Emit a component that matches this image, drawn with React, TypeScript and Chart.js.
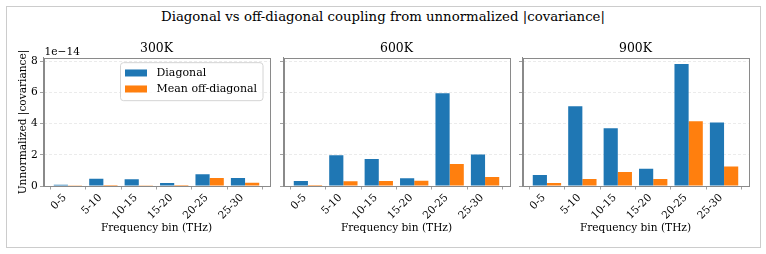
import React, { useEffect, useRef } from 'react';
import { Chart, registerables } from 'chart.js';

Chart.register(...registerables);

// ---- data (values are |covariance|; axis shows them with a 1e-14 offset) ----
const CATEGORIES = ['0-5', '5-10', '10-15', '15-20', '20-25', '25-30'];
const TEMPERATURES = ['300K', '600K', '900K'];
const SERIES_LABELS = ['Diagonal', 'Mean off-diagonal'];
const SERIES_COLORS = ['#1f77b4', '#ff7f0e'];

const DIAG_300K = [0.08e-14, 0.47e-14, 0.43e-14, 0.19e-14, 0.75e-14, 0.51e-14];
const OFF_300K = [0.01e-14, 0.06e-14, 0.05e-14, 0.06e-14, 0.51e-14, 0.21e-14];
const DIAG_600K = [0.32e-14, 1.98e-14, 1.73e-14, 0.49e-14, 5.95e-14, 2.03e-14];
const OFF_600K = [0.06e-14, 0.30e-14, 0.32e-14, 0.34e-14, 1.41e-14, 0.58e-14];
const DIAG_900K = [0.70e-14, 5.12e-14, 3.71e-14, 1.11e-14, 7.83e-14, 4.07e-14];
const OFF_900K = [0.19e-14, 0.45e-14, 0.90e-14, 0.45e-14, 4.16e-14, 1.26e-14];

const Y_TICKS = [0, 2e-14, 4e-14, 6e-14, 8e-14];
const OFFSET_TEXT = '1e\u221214';
const OFFSET_SCALE = 1e-14;

const SUPTITLE = 'Diagonal vs off-diagonal coupling from unnormalized |covariance|';
const X_TITLE = 'Frequency bin (THz)';
const Y_TITLE = 'Unnormalized |covariance|';

const FONT = "'DejaVu Serif', serif";
const SPINE = '#8a8a8a';
const SMALL = 10.6;
const LEGEND_SIZE = 11;

const ALL = [...DIAG_300K, ...OFF_300K, ...DIAG_600K, ...OFF_600K, ...DIAG_900K, ...OFF_900K];
const Y_MAX = Math.max(...ALL) * 1.05;
const X_MIN = -0.4 - 0.05 * (CATEGORIES.length - 0.2);
const X_MAX = CATEGORIES.length - 1 + 0.4 + 0.05 * (CATEGORIES.length - 0.2);

const PANELS = [
  { title: TEMPERATURES[0], diag: DIAG_300K, off: OFF_300K, left: 0, width: 276, yWidth: 43.5, padRight: 6.5, first: true },
  { title: TEMPERATURES[1], diag: DIAG_600K, off: OFF_600K, left: 270, width: 246, yWidth: 13.5, padRight: 6.5, first: false },
  { title: TEMPERATURES[2], diag: DIAG_900K, off: OFF_900K, left: 516, width: 250, yWidth: 6.5, padRight: 17.5, first: false },
];

const framePlugin = {
  id: 'frame',
  afterDatasetsDraw(chart: any) {
    const { ctx, chartArea } = chart;
    const { left, top, right, bottom } = chartArea;
    ctx.save();
    ctx.strokeStyle = SPINE;
    ctx.lineWidth = 1;
    ctx.strokeRect(Math.round(left) + 0.5, Math.round(top) + 0.5, Math.round(right) - Math.round(left), Math.round(bottom) - Math.round(top));
    ctx.restore();
  },
};

const offsetTextPlugin = {
  id: 'offsetText',
  afterDraw(chart: any) {
    const { ctx, chartArea } = chart;
    ctx.save();
    ctx.font = `${SMALL}px ${FONT}`;
    ctx.fillStyle = '#000';
    ctx.textAlign = 'left';
    ctx.textBaseline = 'alphabetic';
    ctx.fillText(OFFSET_TEXT, chartArea.left + 1, chartArea.top - 2.5);
    ctx.restore();
  },
};

const innerLegendPlugin = {
  id: 'innerLegend',
  afterDraw(chart: any) {
    const { ctx, chartArea } = chart;
    const bw = 142.5;
    const bh = 38;
    const bx = chartArea.right - 6.5 - bw;
    const by = chartArea.top + 4.7;
    ctx.save();
    ctx.beginPath();
    const r = 3;
    ctx.moveTo(bx + r, by);
    ctx.lineTo(bx + bw - r, by);
    ctx.quadraticCurveTo(bx + bw, by, bx + bw, by + r);
    ctx.lineTo(bx + bw, by + bh - r);
    ctx.quadraticCurveTo(bx + bw, by + bh, bx + bw - r, by + bh);
    ctx.lineTo(bx + r, by + bh);
    ctx.quadraticCurveTo(bx, by + bh, bx, by + bh - r);
    ctx.lineTo(bx, by + r);
    ctx.quadraticCurveTo(bx, by, bx + r, by);
    ctx.closePath();
    ctx.fillStyle = 'rgba(255,255,255,0.8)';
    ctx.fill();
    ctx.strokeStyle = '#d4d4d4';
    ctx.lineWidth = 1;
    ctx.stroke();
    ctx.font = `${LEGEND_SIZE}px ${FONT}`;
    ctx.textAlign = 'left';
    ctx.textBaseline = 'middle';
    chart.data.datasets.forEach((ds: any, i: number) => {
      const cy = by + 10.3 + i * 16;
      ctx.fillStyle = ds.backgroundColor;
      ctx.fillRect(bx + 4.5, cy - 3.5, 22, 7);
      ctx.fillStyle = '#000';
      ctx.fillText(ds.label, bx + 36, cy + 0.5);
    });
    ctx.restore();
  },
};

function Panel({ cfg }: { cfg: typeof PANELS[number] }) {
  const ref = useRef<HTMLCanvasElement | null>(null);
  useEffect(() => {
    if (!ref.current) return;
    Chart.defaults.font.family = FONT;
    Chart.defaults.color = '#000';
    const plugins: any[] = [framePlugin];
    if (cfg.first) plugins.push(offsetTextPlugin, innerLegendPlugin);
    const chart = new Chart(ref.current, {
      type: 'bar',
      data: {
        datasets: [cfg.diag, cfg.off].map((vals, k) => ({
          label: SERIES_LABELS[k],
          data: vals.map((v, i) => ({ x: i, y: v })),
          backgroundColor: SERIES_COLORS[k],
          borderWidth: 0,
          categoryPercentage: 0.8,
          barPercentage: 1.0,
        })),
      },
      options: {
        responsive: false,
        animation: false,
        layout: { padding: { left: 0, right: cfg.padRight, top: 0, bottom: 0 } },
        plugins: {
          legend: { display: false },
          tooltip: { enabled: false },
          title: {
            display: true,
            text: cfg.title,
            fullSize: false,
            color: '#000',
            font: { size: 12.4, weight: 'normal', family: FONT },
            padding: { top: 41.1, bottom: 2 },
          },
        },
        scales: {
          x: {
            type: 'linear',
            min: X_MIN,
            max: X_MAX,
            offset: false,
            afterBuildTicks: (s: any) => {
              s.ticks = CATEGORIES.map((_, i) => ({ value: i }));
            },
            afterFit: (s: any) => {
              s.height = 68;
            },
            ticks: {
              autoSkip: false,
              minRotation: 45,
              maxRotation: 45,
              padding: 2,
              labelOffset: -3,
              color: '#000',
              font: { size: SMALL, family: FONT },
              callback: (_v: any, i: number) => CATEGORIES[i],
            },
            grid: { drawOnChartArea: false, drawTicks: true, tickLength: 3.5, tickColor: SPINE, tickWidth: 0.8 },
            border: { color: SPINE, width: 1 },
            title: {
              display: true,
              text: X_TITLE,
              color: '#000',
              font: { size: SMALL, family: FONT },
              padding: { top: 0, bottom: 19.5 },
            },
          },
          y: {
            type: 'linear',
            min: 0,
            max: Y_MAX,
            afterBuildTicks: (s: any) => {
              s.ticks = Y_TICKS.map((v) => ({ value: v }));
            },
            afterFit: (s: any) => {
              s.width = cfg.yWidth;
            },
            ticks: {
              display: cfg.first,
              padding: 2.3,
              color: '#000',
              font: { size: SMALL, family: FONT },
              callback: (v: any) => String(Math.round(Number(v) / OFFSET_SCALE)),
            },
            grid: { color: 'rgba(0,0,0,0.1)', lineWidth: 0.8, tickLength: 3.5, tickColor: SPINE, tickWidth: 0.8 },
            border: { color: SPINE, width: 1, dash: [3, 2] },
            title: {
              display: cfg.first,
              text: Y_TITLE,
              color: '#000',
              font: { size: SMALL, family: FONT },
              padding: { top: 17.2, bottom: 0 },
            },
          },
        },
      } as any,
      plugins,
    });
    return () => chart.destroy();
  }, [cfg]);
  return (
    <canvas
      ref={ref}
      width={cfg.width}
      height={254}
      style={{ position: 'absolute', left: cfg.left, top: 0, width: cfg.width, height: 254 }}
    />
  );
}

export default function App() {
  return (
    <div style={{ position: 'absolute', left: 0, top: 0, width: 766, height: 254, background: '#fff', overflow: 'hidden' }}>
      <div
        style={{
          position: 'absolute',
          left: 6,
          top: 6,
          width: 753,
          height: 240,
          border: '1px solid #cccccc',
        }}
      />
      <div
        style={{
          position: 'absolute',
          left: 0,
          top: 9,
          width: 766,
          textAlign: 'center',
          fontFamily: FONT,
          fontSize: 13.3,
          lineHeight: '16px',
          color: '#000',
          whiteSpace: 'nowrap',
        }}
      >
        {SUPTITLE}
      </div>
      {PANELS.map((p) => (
        <Panel key={p.title} cfg={p} />
      ))}
    </div>
  );
}
